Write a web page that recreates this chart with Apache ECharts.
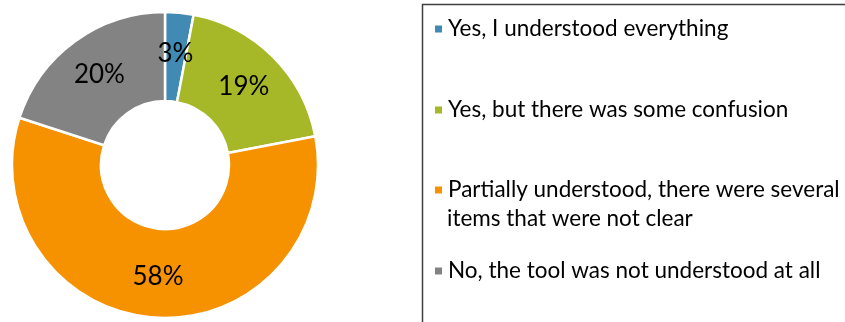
<!DOCTYPE html>
<html>
<head>
<meta charset="utf-8">
<script src="https://cdn.jsdelivr.net/npm/echarts@6/dist/echarts.min.js"></script>
<style>
  html, body { margin: 0; padding: 0; background: #ffffff; }
  #chart { width: 845px; height: 322px; }
</style>
</head>
<body>
<div id="chart"></div>
<script>
// Survey answers and their shares (percent)
const categories = [
  'Yes, I understood everything',
  'Yes, but there was some confusion',
  'Partially understood, there were several items that were not clear',
  'No, the tool was not understood at all'
];
const shares = [3, 19, 58, 20];
const colors = ['#418AB3', '#A6B727', '#F69200', '#838383'];

const FONT = 'Lato, "Open Sans", sans-serif';
const LEGEND_SIZE = 22.5;

// One legend block per answer so the rows can sit at their own heights
const legendRows = [29, 110, 190, 271];
const legends = categories.map((name, i) => ({
  data: [name],
  orient: 'vertical',
  left: 433,
  top: legendRows[i] - 15,
  padding: 0,
  itemWidth: 9,
  itemHeight: 9,
  icon: 'rect',
  selectedMode: false,
  formatter: n => (i === 2 ? 'Partially understood, there were several' : n),
  textStyle: { fontFamily: FONT, fontSize: LEGEND_SIZE, color: '#000000', lineHeight: 30 }
}));

const chart = echarts.init(document.getElementById('chart'), null, { renderer: 'canvas' });
chart.setOption({
  animation: false,
  backgroundColor: '#ffffff',
  color: colors,
  legend: legends,
  graphic: [
    {
      type: 'rect',
      shape: { x: 422.5, y: 4.5, width: 440, height: 330 },
      style: { fill: 'none', stroke: '#3f3f3f', lineWidth: 1.5 },
      silent: true
    },
    {
      // second line of the wrapped third legend entry
      type: 'text',
      left: 447,
      top: 207,
      style: {
        text: 'items that were not clear',
        font: LEGEND_SIZE + 'px ' + FONT,
        fill: '#000000'
      },
      silent: true
    }
  ],
  series: [{
    type: 'pie',
    center: [165, 165],
    radius: [64, 153],
    startAngle: 90,
    clockwise: true,
    avoidLabelOverlap: false,
    itemStyle: { borderColor: '#ffffff', borderWidth: 2.5 },
    label: {
      show: true,
      position: 'inside',
      formatter: p => p.value + '%',
      fontFamily: FONT,
      fontSize: 26,
      color: '#000000'
    },
    labelLine: { show: false },
    emphasis: { disabled: true },
    data: categories.map((name, i) => ({ name, value: shares[i] }))
  }]
});
</script>
</body>
</html>
